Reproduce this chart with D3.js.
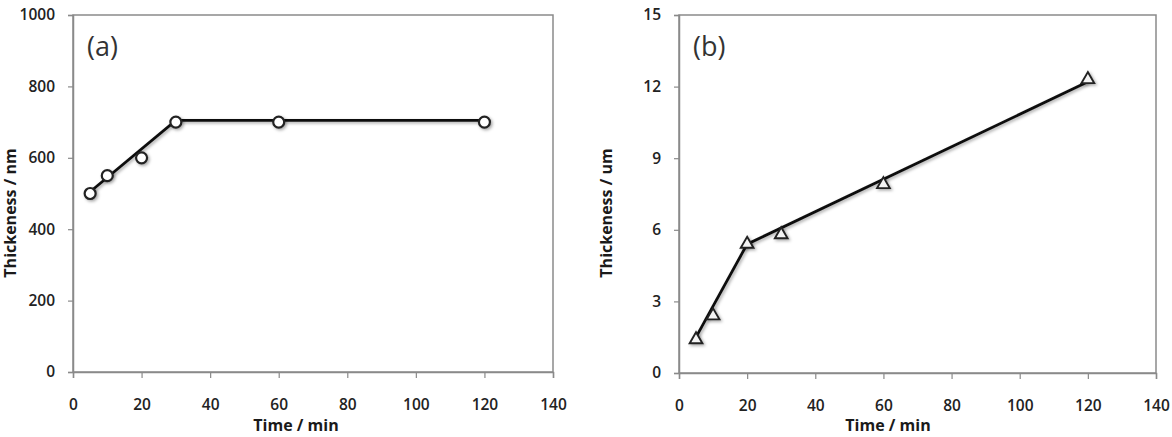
<!DOCTYPE html>
<html lang="en">
<head>
    <meta charset="UTF-8">
    <title>Thickness vs Time</title>
    <style>
        body {
            margin: 0;
            padding: 0;
            background: #fff;
        }

        .tick text {
            font-family: "Open Sans", sans-serif;
            font-weight: 600;
            font-size: 15.5px;
            fill: #222;
        }

        .axis-title {
            font-family: "Open Sans", sans-serif;
            font-weight: 700;
            font-size: 16px;
            fill: #1a1a1a;
        }

        .panel-label {
            font-family: "Open Sans", sans-serif;
            font-size: 27px;
            fill: #333;
        }
    </style>
</head>
<body>
    <div id="chart"></div>
    <script src="https://d3js.org/d3.v7.min.js"></script>
    <script>
        // values
        const timeMin = [5, 10, 20, 30, 60, 120];
        const thickA = [500, 550, 600, 700, 700, 700];    // nm
        const thickB = [1.4, 2.4, 5.4, 5.8, 7.9, 12.3];   // um
        const fitTimeA = [5, 30, 120];
        const fitThickA = [505, 705, 705];
        const fitTimeB = [5, 20, 120];
        const fitThickB = [1.5, 5.4, 12.2];
        const xTicks = [0, 20, 40, 60, 80, 100, 120, 140];
        const yTicksA = [0, 200, 400, 600, 800, 1000];
        const yTicksB = [0, 3, 6, 9, 12, 15];

        const W = 1172, H = 437;

        const svg = d3.select("#chart").append("svg")
            .attr("width", W)
            .attr("height", H);

        const defs = svg.append("defs");
        const shadow = defs.append("filter")
            .attr("id", "shadow")
            .attr("x", "-50%").attr("y", "-50%")
            .attr("width", "200%").attr("height", "200%");
        shadow.append("feDropShadow")
            .attr("dx", 1.5)
            .attr("dy", 1.5)
            .attr("stdDeviation", 1.5)
            .attr("flood-color", "#000")
            .attr("flood-opacity", 0.35);

        const panels = [
            {
                box: { left: 73, right: 553, top: 15, bottom: 372 },
                yMax: 1000, yTicks: yTicksA, values: thickA,
                fitX: fitTimeA, fitY: fitThickA, marker: "circle",
                label: "(a)", yTitle: "Thickeness / nm",
                yTitleX: 10, xTitleX: 296
            },
            {
                box: { left: 679, right: 1156, top: 15, bottom: 373 },
                yMax: 15, yTicks: yTicksB, values: thickB,
                fitX: fitTimeB, fitY: fitThickB, marker: "triangle",
                label: "(b)", yTitle: "Thickeness  / um",
                yTitleX: 606, xTitleX: 888
            }
        ];

        panels.forEach(function (p) {
            const b = p.box;
            const x = d3.scaleLinear().domain([0, 140]).range([b.left, b.right]);
            const y = d3.scaleLinear().domain([0, p.yMax]).range([b.bottom, b.top]);

            const g = svg.append("g");

            // plot area frame
            g.append("rect")
                .attr("x", b.left)
                .attr("y", b.top)
                .attr("width", b.right - b.left)
                .attr("height", b.bottom - b.top)
                .attr("fill", "none")
                .attr("stroke", "#8a8a8a")
                .attr("stroke-width", 1.5);

            const xAxis = g.append("g")
                .attr("transform", "translate(0," + b.bottom + ")")
                .call(d3.axisBottom(x).tickValues(xTicks).tickSize(6).tickPadding(21));
            const yAxis = g.append("g")
                .attr("transform", "translate(" + b.left + ",0)")
                .call(d3.axisLeft(y).tickValues(p.yTicks).tickFormat(d3.format("d")).tickSize(5).tickPadding(13));

            [xAxis, yAxis].forEach(function (a) {
                a.select(".domain").attr("stroke", "#8a8a8a").attr("stroke-width", 1.5);
                a.selectAll(".tick line").attr("stroke", "#8a8a8a").attr("stroke-width", 1.2);
            });

            // fitted line
            const line = d3.line()
                .x(d => x(d[0]))
                .y(d => y(d[1]));
            g.append("path")
                .datum(p.fitX.map((t, i) => [t, p.fitY[i]]))
                .attr("d", line)
                .attr("fill", "none")
                .attr("stroke", "#111")
                .attr("stroke-width", 2.8)
                .attr("filter", "url(#shadow)");

            // markers
            const pts = timeMin.map((t, i) => [t, p.values[i]]);
            if (p.marker === "circle") {
                g.selectAll(".pt")
                    .data(pts)
                    .enter().append("circle")
                    .attr("cx", d => x(d[0]))
                    .attr("cy", d => y(d[1]))
                    .attr("r", 5.5)
                    .attr("fill", "#fff")
                    .attr("stroke", "#222")
                    .attr("stroke-width", 2.2)
                    .attr("filter", "url(#shadow)");
            } else {
                g.selectAll(".pt")
                    .data(pts)
                    .enter().append("path")
                    .attr("d", d3.symbol().type(d3.symbolTriangle).size(70))
                    .attr("transform", d => "translate(" + x(d[0]) + "," + y(d[1]) + ")")
                    .attr("fill", "#f4f4f4")
                    .attr("stroke", "#222")
                    .attr("stroke-width", 1.9)
                    .attr("filter", "url(#shadow)");
            }

            // panel tag
            g.append("text")
                .attr("class", "panel-label")
                .attr("x", b.left + 14)
                .attr("y", 56)
                .text(p.label);

            // axis titles
            g.append("text")
                .attr("class", "axis-title")
                .attr("x", p.xTitleX)
                .attr("y", 431)
                .attr("text-anchor", "middle")
                .text("Time / min");

            g.append("text")
                .attr("class", "axis-title")
                .attr("transform", "translate(" + p.yTitleX + ",213) rotate(-90)")
                .attr("text-anchor", "middle")
                .attr("dy", "0.35em")
                .text(p.yTitle);
        });
    </script>
</body>
</html>
